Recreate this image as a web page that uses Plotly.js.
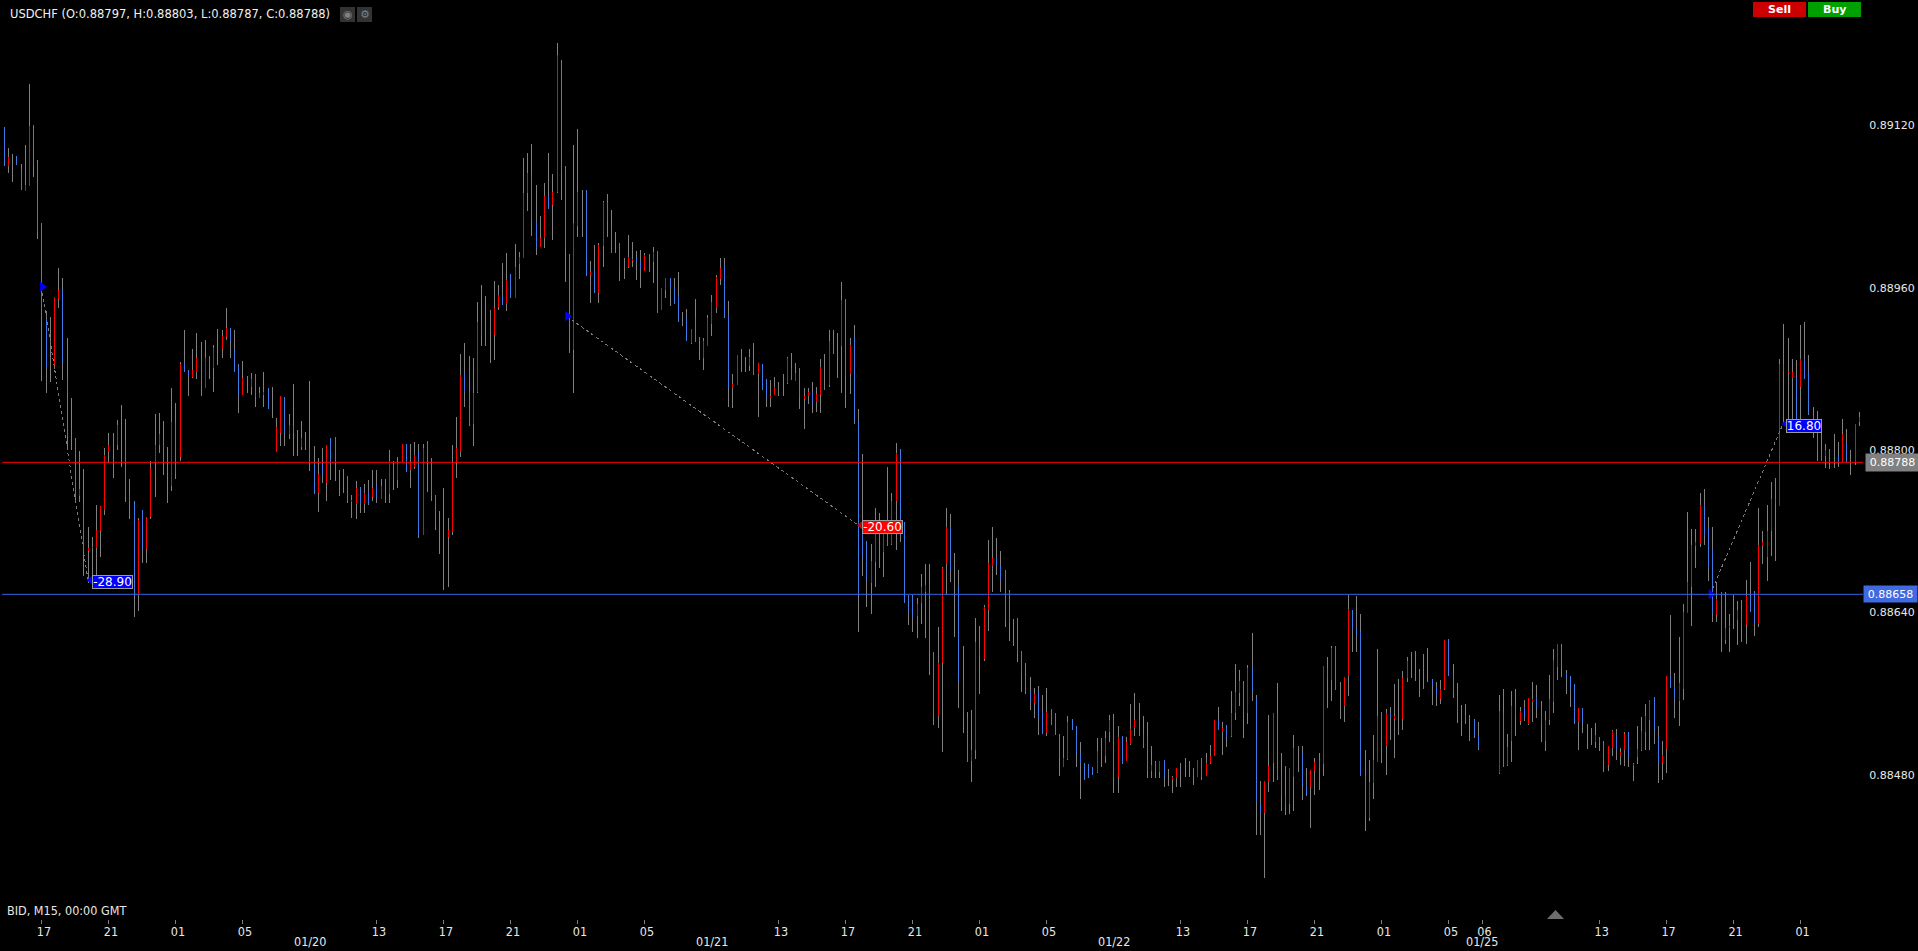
<!DOCTYPE html>
<html>
<head>
<meta charset="utf-8">
<script src="https://cdn.plot.ly/plotly-3.0.1.min.js"></script>
<style>
html,body{margin:0;padding:0;background:#000;overflow:hidden}
#chart{width:1918px;height:951px}
.scatterlayer .js-line{shape-rendering:crispEdges}
</style>
</head>
<body>
<div id="chart"></div>
<script>
// prices in 1/100000 units; null = no bar (weekend gap)
const high = [
89118,89098,89092,89090,89082,89101,89161,89120,89086,89024,
88937,88931,88951,88979,88970,88910,88851,88812,88799,88781,
88724,88714,88746,88745,88802,88817,88817,88830,88844,88831,
88772,88750,88733,88741,88734,88789,88836,88837,88829,88803,
88861,88846,88887,88918,88879,88900,88915,88907,88909,88893,
88904,88919,88918,88940,88920,88918,88885,88888,88873,88876,
88875,88862,88877,88861,88862,88832,88853,88852,88836,88865,
88820,88829,88818,88868,88804,88792,88802,88805,88812,88813,
88780,88781,88775,88756,88770,88764,88767,88771,88780,88780,
88772,88772,88800,88789,88793,88806,88806,88806,88808,88806,
88806,88809,88792,88756,88740,88763,88733,88805,88833,88895,
88906,88893,88891,88946,88963,88952,88938,88967,88963,88984,
88994,88974,89003,88995,89088,89093,89102,89061,89031,89063,
89093,89072,89201,89184,89080,88993,89101,89116,89056,89056,
88986,89002,89004,89045,89052,89037,89015,89004,88989,89012,
89005,88996,88997,88994,88993,89000,88996,88960,88970,88970,
88970,88975,88936,88939,88919,88949,88911,88910,88933,88953,
88973,88989,88989,88947,88875,88894,88900,88892,88900,88906,
88886,88885,88870,88869,88872,88867,88875,88892,88896,88886,
88881,88861,88861,88867,88862,88890,88895,88918,88918,88915,
88966,88949,88910,88923,88841,88796,88711,88708,88743,88738,
88726,88783,88758,88807,88801,88729,88657,88657,88654,88678,
88688,88688,88601,88626,88685,88743,88737,88699,88682,88607,
88542,88544,88635,88627,88647,88712,88724,88713,88701,88682,
88662,88634,88635,88602,88590,88577,88566,88568,88559,88566,
88545,88541,88520,88518,88538,88535,88528,88513,88492,88491,
88488,88516,88516,88523,88539,88540,88528,88518,88517,88550,
88561,88551,88538,88532,88509,88494,88494,88495,88486,88479,
88487,88492,88497,88494,88487,88495,88497,88502,88510,88534,
88547,88532,88529,88563,88589,88583,88573,88588,88620,88559,
88474,88474,88539,88541,88571,88502,88489,88487,88519,88509,
88509,88487,88485,88497,88502,88587,88596,88607,88607,88572,
88577,88657,88643,88656,88639,88505,88495,88519,88604,88542,
88545,88547,88570,88575,88582,88596,88601,88602,88584,88599,
88605,88575,88572,88574,88613,88614,88589,88571,88549,88550,
88539,88535,88532,null,null,null,null,88559,88565,88520,
88563,88565,88547,88554,88556,88572,88569,88553,88543,88579,
88604,88609,88609,88583,88578,88570,88546,88546,88530,88526,
88531,88517,88514,88509,88524,88525,88507,88522,88522,88492,
88528,88537,88550,88554,88557,88528,88514,88578,88638,88581,
88616,88648,88739,88722,88722,88758,88762,88734,88724,88670,
88660,88660,88639,88657,88651,88652,88672,88690,88661,88743,
88720,88746,88769,88773,88890,88924,88910,88890,88889,88923,
88926,88894,88843,88839,88825,88806,88801,88816,88808,88831,
88821,88800,88826,88838];
const low = [
89080,89073,89064,89081,89056,89055,89060,89069,89008,88868,
88856,88867,88880,88940,88869,88800,88800,88750,88749,88676,
88669,88677,88677,88695,88736,88787,88773,88800,88783,88749,
88732,88636,88642,88689,88689,88732,88754,88797,88776,88748,
88760,88772,88789,88877,88853,88871,88870,88853,88861,88870,
88857,88884,88891,88909,88891,88877,88837,88854,88856,88854,
88843,88851,88843,88841,88832,88798,88804,88804,88811,88794,
88794,88800,88800,88779,88757,88739,88768,88750,88771,88770,
88755,88758,88748,88733,88732,88738,88738,88746,88750,88748,
88752,88748,88748,88761,88763,88788,88778,88763,88781,88713,
88716,88759,88750,88721,88698,88662,88665,88716,88773,88793,
88843,88824,88804,88856,88903,88903,88886,88889,88938,88943,
88937,88950,88950,88969,88989,89036,89011,88992,89000,88999,
89038,89007,89053,89046,88966,88896,88856,89010,89010,88972,
88945,88955,88945,88980,89010,88994,88994,88967,88969,88979,
88980,88968,88960,88976,88975,88965,88935,88938,88950,88942,
88944,88926,88922,88908,88905,88907,88889,88879,88903,88912,
88935,88963,88930,88843,88842,88864,88877,88877,88878,88874,
88833,88859,88843,88843,88854,88853,88853,88865,88869,88868,
88841,88821,88845,88837,88838,88837,88859,88862,88895,88871,
88856,88842,88855,88826,88621,88676,88646,88639,88665,88684,
88675,88706,88707,88702,88710,88649,88628,88621,88615,88629,
88615,88579,88529,88526,88503,88658,88670,88616,88546,88521,
88493,88473,88496,88560,88592,88622,88660,88677,88660,88626,
88612,88607,88591,88562,88560,88544,88536,88519,88520,88518,
88529,88519,88479,88488,88495,88524,88488,88456,88475,88477,
88480,88482,88488,88492,88513,88462,88462,88491,88494,88510,
88518,88518,88507,88477,88477,88477,88477,88468,88469,88462,
88468,88468,88478,88478,88470,88478,88475,88479,88491,88499,
88524,88500,88508,88517,88534,88548,88516,88530,88553,88421,
88421,88379,88463,88473,88475,88445,88441,88442,88445,88483,
88455,88459,88428,88460,88465,88479,88546,88553,88564,88535,
88532,88558,88601,88601,88479,88425,88435,88456,88493,88492,
88480,88515,88497,88519,88524,88572,88576,88573,88557,88565,
88572,88549,88548,88550,88564,88578,88556,88531,88518,88530,
88514,88516,88505,null,null,null,null,88481,88488,88489,
88493,88518,88529,88533,88529,88532,88536,88513,88504,88529,
88541,88574,88577,88560,88547,88530,88505,88521,88506,88510,
88507,88504,88483,88484,88499,88495,88490,88489,88488,88474,
88491,88504,88505,88505,88511,88472,88475,88482,88566,88536,
88528,88554,88640,88627,88684,88705,88707,88671,88631,88631,
88601,88609,88601,88624,88608,88611,88609,88641,88617,88626,
88688,88671,88696,88691,88745,88825,88828,88827,88827,88827,
88870,88835,88812,88789,88789,88782,88781,88782,88783,88788,
88788,88776,88785,88824];
const open = [
89080,89089,89080,89081,89056,89061,89119,89080,89015,88931,
88882,88898,88951,88958,88886,88814,88819,88753,88762,88704,
88704,88705,88721,88745,88795,88805,88795,88825,88810,88754,
88750,88657,88731,88703,88734,88782,88805,88816,88785,88780,
88828,88777,88885,88877,88873,88879,88891,88862,88891,88877,
88901,88898,88912,88920,88908,88877,88853,88871,88864,88870,
88852,88856,88857,88841,88849,88823,88853,88817,88825,88817,
88805,88812,88810,88787,88757,88777,88776,88805,88787,88787,
88770,88770,88750,88751,88763,88747,88758,88747,88763,88754,
88765,88760,88789,88771,88787,88806,88778,88787,88795,88715,
88802,88787,88755,88726,88726,88726,88721,88788,88802,88874,
88857,88825,88856,88926,88913,88913,88908,88940,88953,88943,
88968,88950,88980,88990,89053,89073,89026,88999,89009,89050,
89038,89054,89189,89074,88997,88908,89024,89054,89034,88972,
88975,88955,89002,89044,89026,88994,89007,88977,88979,88990,
88988,88986,88978,88992,88975,88995,88935,88960,88970,88960,
88944,88926,88928,88908,88919,88907,88908,88908,88930,88946,
88971,88979,88931,88862,88865,88894,88888,88883,88892,88874,
88886,88859,88851,88853,88862,88859,88866,88891,88869,88876,
88851,88853,88857,88846,88855,88882,88874,88908,88895,88903,
88948,88874,88904,88829,88658,88694,88672,88691,88721,88714,
88718,88706,88750,88797,88716,88649,88641,88635,88648,88665,
88667,88601,88537,88590,88684,88724,88681,88652,88573,88537,
88493,88505,88611,88595,88646,88689,88694,88687,88672,88632,
88629,88629,88600,88578,88563,88552,88560,88536,88521,88542,
88529,88519,88497,88497,88532,88524,88502,88491,88475,88477,
88480,88504,88504,88516,88534,88478,88517,88491,88513,88525,
88534,88519,88509,88484,88490,88483,88494,88478,88478,88478,
88487,88480,88489,88485,88480,88495,88478,88492,88499,88534,
88524,88526,88517,88541,88562,88573,88543,88585,88562,88453,
88442,88474,88489,88541,88475,88459,88450,88487,88507,88495,
88470,88460,88485,88493,88487,88587,88575,88605,88564,88565,
88577,88644,88623,88618,88479,88437,88473,88495,88538,88509,
88541,88536,88538,88535,88576,88592,88590,88590,88574,88575,
88574,88569,88558,88565,88613,88578,88560,88541,88540,88531,
88530,88518,88508,null,null,null,null,88543,88488,88508,
88548,88536,88543,88536,88556,88555,88547,88528,88534,88555,
88593,88609,88586,88577,88564,88531,88546,88531,88520,88518,
88519,88512,88491,88509,88523,88505,88503,88520,88498,88491,
88506,88523,88538,88554,88523,88491,88500,88578,88566,88554,
88571,88641,88670,88707,88710,88746,88715,88685,88639,88653,
88615,88625,88627,88640,88643,88627,88656,88641,88629,88707,
88710,88720,88752,88747,88885,88877,88877,88877,88831,88890,
88870,88836,88817,88799,88789,88800,88787,88790,88788,88816,
88789,88788,88826,88833];
const close = [
89118,89080,89080,89090,89076,89055,89060,89120,89083,89024,
88933,88898,88882,88949,88958,88871,88819,88812,88755,88750,
88701,88704,88704,88720,88741,88798,88795,88805,88810,88810,
88757,88750,88657,88741,88703,88734,88788,88805,88810,88780,
88765,88827,88793,88886,88879,88872,88877,88891,88861,88893,
88881,88898,88900,88911,88920,88899,88884,88854,88864,88862,
88875,88851,88854,88861,88849,88798,88817,88852,88816,88824,
88805,88803,88810,88803,88787,88758,88788,88768,88812,88813,
88770,88770,88775,88749,88747,88764,88747,88760,88754,88765,
88752,88760,88757,88789,88771,88788,88806,88780,88783,88798,
88716,88809,88787,88756,88726,88726,88714,88719,88788,88798,
88876,88857,88826,88857,88925,88913,88908,88913,88941,88952,
88944,88974,88950,88983,88989,89053,89073,89026,89000,89009,
89050,89041,89054,89184,89080,88993,88899,89021,89034,89056,
88973,88978,88955,89001,89044,89019,89007,89004,88979,88980,
88986,88989,88985,88976,88993,88985,88996,88938,88958,88970,
88960,88952,88928,88930,88906,88930,88911,88891,88903,88924,
88940,88969,88981,88933,88861,88864,88888,88883,88883,88885,
88875,88885,88870,88851,88854,88859,88866,88866,88881,88868,
88881,88850,88853,88857,88847,88854,88874,88864,88908,88903,
88903,88949,88875,88910,88829,88721,88711,88669,88690,88721,
88700,88716,88708,88750,88801,88729,88657,88657,88637,88649,
88660,88667,88601,88538,88590,88688,88724,88652,88667,88573,
88536,88494,88505,88608,88594,88643,88686,88695,88686,88682,
88660,88629,88635,88602,88578,88563,88551,88563,88542,88521,
88545,88541,88520,88488,88496,88535,88528,88501,88492,88491,
88488,88483,88504,88499,88522,88534,88478,88518,88494,88511,
88526,88534,88521,88517,88484,88493,88483,88495,88478,88475,
88477,88480,88489,88485,88487,88478,88497,88479,88492,88499,
88534,88522,88529,88518,88541,88561,88573,88541,88585,88556,
88452,88443,88473,88492,88541,88483,88459,88451,88478,88495,
88501,88470,88468,88484,88495,88491,88585,88574,88607,88565,
88548,88578,88643,88623,88621,88478,88438,88472,88493,88542,
88509,88541,88535,88535,88535,88576,88590,88590,88580,88575,
88574,88574,88567,88555,88565,88614,88580,88557,88540,88539,
88530,88535,88518,null,null,null,null,88482,88541,88490,
88514,88548,88533,88547,88530,88552,88557,88547,88514,88534,
88552,88586,88609,88581,88578,88570,88532,88546,88520,88518,
88513,88517,88512,88490,88507,88519,88499,88505,88522,88489,
88498,88505,88522,88534,88557,88516,88492,88506,88579,88567,
88553,88565,88640,88665,88706,88708,88746,88723,88703,88638,
88660,88613,88625,88640,88633,88643,88628,88658,88661,88629,
88706,88695,88720,88752,88745,88885,88876,88871,88871,88862,
88890,88877,88835,88818,88799,88794,88801,88790,88794,88788,
88807,88788,88788,88828];

const timeTickBars = [9,25,41,57,89,105,121,137,153,185,201,217,233,249,281,297,313,329,345,353,381,397,413,429];
const timeTickText = ["17","21","01","05","13","17","21","01","05","13","17","21","01","05","13","17","21","01","05","06","13","17","21","01"];
const dateBars = [73,169,265,353];
const dateText = ["01/20","01/21","01/22","01/25"];
const priceTicks = [0.8912,0.8896,0.888,0.8864,0.8848];

const bidPrice = 0.88788, linePrice = 0.88658;
const tradeFromBar = [8.9,134.3,407.4], tradeToBar = [20,204,424.8];
const tradeFromPrice = [88961,88932,88658], tradeToPrice = [88672,88726,88826];
const tradeText = ["-28.90","-20.60","16.80"];
const tradeColor = ["#0000ff","#ff0000","#0000ff"];

const RED="#ff0000", BLUE="#3d7be6", GREY="#808080", LINEBLUE="#3565e4";
const P = v => v/100000;

const wx=[],wy=[],rx=[],ry=[],bx=[],by=[];
high.forEach((h,i)=>{
  if(h===null) return;
  wx.push(i,i,null); wy.push(P(h),P(low[i]),null);
  if(open[i]>close[i]){ rx.push(i,i,null); ry.push(P(open[i]),P(close[i]),null); }
  else if(open[i]<close[i]){ bx.push(i,i,null); by.push(P(close[i]),P(open[i]),null); }
});
const lineTrace=(x,y,c)=>({type:"scatter",mode:"lines",x,y,line:{color:c,width:1},hoverinfo:"skip",connectgaps:false});
const traces=[lineTrace(wx,wy,GREY),lineTrace(rx,ry,RED),lineTrace(bx,by,BLUE)];
tradeText.forEach((t,k)=>{
  traces.push({type:"scatter",mode:"lines",x:[tradeFromBar[k],tradeToBar[k]],y:[P(tradeFromPrice[k]),P(tradeToPrice[k])],
    line:{color:"#7a7a7a",width:1,dash:"dot"},hoverinfo:"skip"});
  traces.push({type:"scatter",mode:"markers",x:[tradeFromBar[k]+0.2],y:[P(tradeFromPrice[k])],
    marker:{symbol:"triangle-right",size:9,color:"#0000ff"},hoverinfo:"skip"});
  traces.push({type:"scatter",mode:"markers",x:[tradeToBar[k]+0.7],y:[P(tradeToPrice[k])],
    marker:{symbol:"triangle-left",size:9,color:k===1?"#c80000":"#0000ff"},hoverinfo:"skip"});
});

const PL=2,PR=1863,PT=20,PB=919;
const fx=px=>(px-PL)/(PR-PL), fy=py=>(PB-py)/(PB-PT);
const MONO='"DejaVu Sans", sans-serif', COND='"DejaVu Sans Condensed","Liberation Sans",sans-serif';
const txt=(px,py,text,opt={})=>Object.assign({xref:"paper",yref:"paper",x:fx(px),y:fy(py),text,showarrow:false,xanchor:"left",yanchor:"middle",
  font:{family:MONO,size:11,color:"#e8e8e8"}},opt);
const annotations=[
  txt(8,14,"USDCHF (O:0.88797, H:0.88803, L:0.88787, C:0.88788)",{font:{family:MONO,size:11.5,color:"#f0f0f0"}}),
  txt(347.5,14.5,"◉",{xanchor:"center",font:{family:MONO,size:11,color:"#808080"}}),
  txt(364.5,14.5,"⚙",{xanchor:"center",font:{family:MONO,size:11,color:"#808080"}}),
  txt(1779.5,9.5,"<b>Sell</b>",{xanchor:"center",font:{family:MONO,size:11,color:"#ffffff"}}),
  txt(1834.5,9.5,"<b>Buy</b>",{xanchor:"center",font:{family:MONO,size:11,color:"#ffffff"}}),
  txt(5,910.5,"BID, M15, 00:00 GMT",{font:{family:COND,size:12.5,color:"#e8e8e8"}}),
  {xref:"paper",yref:"y",x:1,y:bidPrice,text:"0.88788",showarrow:false,xanchor:"left",yanchor:"middle",xshift:2,width:51,height:15,
   bgcolor:"#808080",font:{family:MONO,size:11,color:"#ffffff"}},
  {xref:"paper",yref:"y",x:1,y:linePrice,text:"0.88658",showarrow:false,xanchor:"left",yanchor:"middle",width:51,height:14,
   bgcolor:"#4169e1",font:{family:MONO,size:11,color:"#ffffff"}}
];
dateBars.forEach((b,k)=>annotations.push({xref:"x",yref:"paper",x:b,y:fy(942),text:dateText[k],showarrow:false,xanchor:"center",yanchor:"middle",
  font:{family:COND,size:12.5,color:"#e8e8e8"}}));
const labelW=[39,39,34], labelShift=[3.5,4,2.5], labelDown=[2,2,2];
tradeText.forEach((t,k)=>annotations.push({xref:"x",yref:"y",x:tradeToBar[k],y:P(tradeToPrice[k]),text:t,showarrow:false,
  xanchor:"left",yanchor:"middle",xshift:labelShift[k],yshift:-labelDown[k],width:labelW[k],height:12,borderpad:0,bgcolor:tradeColor[k],
  bordercolor:"#9a9a9a",borderwidth:1,font:{family:MONO,size:12,color:"#ffffff"}}));

const rect=(x0,x1,y0,y1,c)=>({type:"rect",xref:"paper",yref:"paper",x0:fx(x0),x1:fx(x1),y0:fy(y0),y1:fy(y1),fillcolor:c,line:{width:0},layer:"above"});
const shapes=[
  {type:"line",xref:"paper",yref:"y",x0:0,x1:1,y0:bidPrice,y1:bidPrice,line:{color:"#ff0000",width:1},layer:"above"},
  {type:"line",xref:"paper",yref:"y",x0:0,x1:1,y0:linePrice,y1:linePrice,line:{color:LINEBLUE,width:1},layer:"above"},
  rect(340,355,7,22,"#333333"),rect(357,372,7,22,"#333333"),
  rect(1753,1806,2,17,"#cc0000"),rect(1808,1861,2,17,"#00a000"),
  {type:"path",xref:"paper",yref:"paper",path:`M ${fx(1547)} ${fy(919)} L ${fx(1564)} ${fy(919)} L ${fx(1555.5)} ${fy(910)} Z`,fillcolor:"#6e6e6e",line:{width:0},layer:"above"}
];

Plotly.newPlot("chart",traces,{
  width:1918,height:951,autosize:false,showlegend:false,hovermode:false,dragmode:false,
  paper_bgcolor:"#000",plot_bgcolor:"#000",
  margin:{l:PL,r:1918-PR,t:PT,b:951-PB,pad:0},
  xaxis:{range:[-0.55,443.9],showgrid:false,zeroline:false,showline:false,tickmode:"array",tickvals:timeTickBars,ticktext:timeTickText,
    ticks:"outside",ticklen:4,tickwidth:1,tickcolor:"#808080",ticklabelshift:2,ticklabelstandoff:-3,tickfont:{family:COND,size:12.5,color:"#e8e8e8"}},
  yaxis:{range:[0.883382,0.892237],side:"right",showgrid:false,zeroline:false,showline:false,tickmode:"array",tickvals:priceTicks,
    tickformat:".5f",ticks:"outside",ticklen:3,tickcolor:"rgba(0,0,0,0)",tickfont:{family:MONO,size:11,color:"#e8e8e8"}},
  annotations,shapes
},{displayModeBar:false,staticPlot:true});
</script>
</body>
</html>
